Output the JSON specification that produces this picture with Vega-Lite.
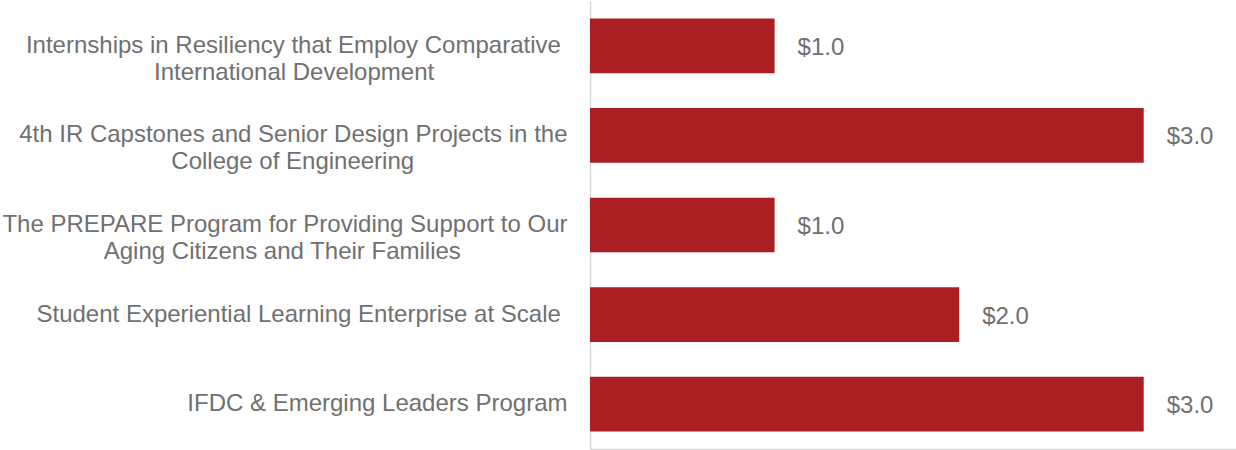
{
  "$schema": "https://vega.github.io/schema/vega-lite/v6.json",
  "autosize": "none",
  "width": 646,
  "height": 448,
  "padding": {"left": 590, "top": 1, "right": 0, "bottom": 1},
  "background": "white",
  "config": {"view": {"stroke": null}, "font": "Liberation Sans"},
  "data": {"values": [
    {"program": "Internships in Resiliency that Employ Comparative\u00a0\u200b|International Development\u00a0\u00a0\u00a0\u00a0\u00a0\u00a0\u00a0\u00a0\u00a0\u00a0\u00a0\u00a0\u00a0\u00a0\u00a0\u00a0\u00a0\u00a0\u00a0\u00a0\u200b", "value": 1.0, "order": 1},
    {"program": "4th IR Capstones and Senior Design Projects in the|College of Engineering\u00a0\u00a0\u00a0\u00a0\u00a0\u00a0\u00a0\u00a0\u00a0\u00a0\u00a0\u00a0\u00a0\u00a0\u00a0\u00a0\u00a0\u00a0\u00a0\u00a0\u00a0\u00a0\u00a0\u200b", "value": 3.0, "order": 2},
    {"program": "The PREPARE Program for Providing Support to Our|Aging Citizens and Their Families\u00a0\u00a0\u00a0\u00a0\u00a0\u00a0\u00a0\u00a0\u00a0\u00a0\u00a0\u00a0\u00a0\u00a0\u00a0\u00a0\u200b", "value": 1.0, "order": 3},
    {"program": "Student Experiential Learning Enterprise at Scale\u00a0\u200b", "value": 2.0, "order": 4},
    {"program": "IFDC & Emerging Leaders Program", "value": 3.0, "order": 5}
  ]},
  "encoding": {
    "y": {"field": "program", "type": "nominal", "sort": {"field": "order"},
      "scale": {"paddingInner": 0.39, "paddingOuter": 0.195},
      "axis": {"title": null, "ticks": false, "labelFont": "Liberation Sans", "labelFontSize": 24, "labelColor": "#707070", "labelPadding": 23, "labelLimit": 700, "labelExpr": "split(datum.label, '|')", "labelLineHeight": 27, "domainColor": "#d9d9d9", "domainWidth": 1.5}},
    "x": {"field": "value", "type": "quantitative", "scale": {"domain": [0, 3.5]},
      "axis": {"title": null, "labels": false, "ticks": false, "grid": false, "domainColor": "#d9d9d9", "domainWidth": 1.5}}
  },
  "layer": [
    {"mark": {"type": "bar", "color": "#A91F24"}},
    {"mark": {"type": "text", "align": "left", "dx": 23, "dy": 2, "font": "Liberation Sans", "fontSize": 24, "color": "#707070"},
     "encoding": {"text": {"field": "value", "type": "quantitative", "format": "$.1f"}}}
  ]
}
